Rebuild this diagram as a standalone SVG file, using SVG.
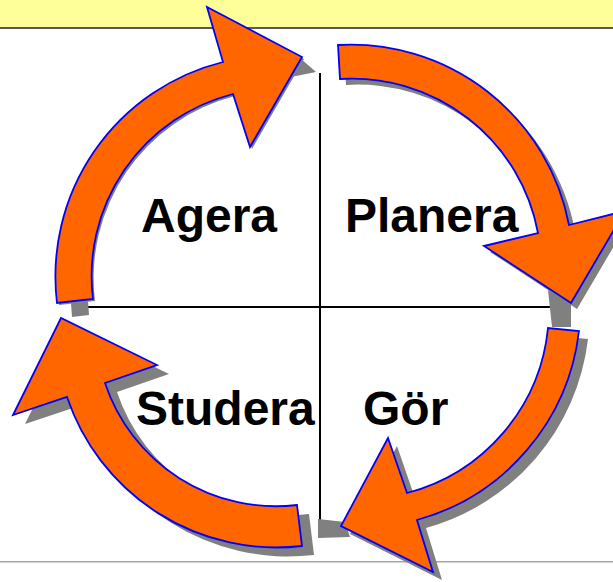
<svg xmlns="http://www.w3.org/2000/svg" width="613" height="582" viewBox="0 0 613 582">
  <style>
    .arrow { fill: #FF6600; stroke: #0000FF; stroke-width: 1.8; stroke-linejoin: miter; }
    .shadow { fill: #808080; stroke: none; }
    .label { font-family: "Liberation Sans", Arial, Helvetica, sans-serif; font-weight: bold; font-size: 48px; fill: #000000; }
    .axis { stroke: #000000; stroke-width: 2; fill: none; }
  </style>
  <defs>
    <!-- curved block arrows of the cycle, each an annular band with a head -->
    <path id="arc-agera" d="M 57,303 A 221 221 0 0 1 223,62 L 207,7 L 302,57 L 250,147 L 233,94 A 188 188 0 0 0 93,299 Z"/>
    <path id="arc-planera" d="M 338,45 A 222 222 0 0 1 569,225 L 625,211 L 571,303 L 484,246 L 538,233 A 189 189 0 0 0 340,79 Z"/>
    <path id="arc-gor" d="M 579,331 A 223 223 0 0 1 417,520 L 433,572 L 341,526 L 388,438 L 407,493 A 190 190 0 0 0 548,328 Z"/>
    <path id="arc-studera" d="M 302,546 A 221 221 0 0 1 67,397 L 13,415 L 61,318 L 157,365 L 105,383 A 180 180 0 0 0 297,505 Z"/>
  </defs>

  <rect x="0" y="0" width="613" height="582" fill="#FFFFFF"/>

  <!-- header band and footer rule -->
  <g id="frame">
    <rect x="0" y="0" width="613" height="27.5" fill="#FFFF99"/>
    <line x1="0" y1="28" x2="613" y2="28" stroke="#222222" stroke-width="1.5"/>
    <line x1="0" y1="561.8" x2="613" y2="561.8" stroke="#A6A6A6" stroke-width="1.6"/>
  </g>

  <!-- quadrant cross -->
  <g id="connectors">
    <line class="axis" x1="320" y1="73" x2="320" y2="520"/>
    <line class="axis" x1="88" y1="307" x2="552" y2="307"/>
  </g>

  <g id="agera">
    <use href="#arc-agera" class="shadow" transform="translate(2,2)"/>
    <polygon class="shadow" points="300,58 316,72 291,77"/>
    <use href="#arc-agera" class="arrow"/>
    <text class="label" x="141" y="232">Agera</text>
  </g>

  <g id="planera">
    <use href="#arc-planera" class="shadow" transform="translate(6,6)"/>
    <polygon class="shadow" points="548,290 571,303 571,327 552,327"/>
    <use href="#arc-planera" class="arrow"/>
    <text class="label" x="345" y="232">Planera</text>
  </g>

  <g id="gor">
    <use href="#arc-gor" class="shadow" transform="translate(9,8)"/>
    <polygon class="shadow" points="345,522 318,519 318,538 350,537"/>
    <use href="#arc-gor" class="arrow"/>
    <text class="label" x="363" y="425">Gör</text>
  </g>

  <g id="studera">
    <use href="#arc-studera" class="shadow" transform="translate(12,9)"/>
    <polygon class="shadow" points="71,303 88,301.5 89,315 72,317"/>
    <use href="#arc-studera" class="arrow"/>
    <text class="label" x="136" y="425">Studera</text>
  </g>
</svg>
